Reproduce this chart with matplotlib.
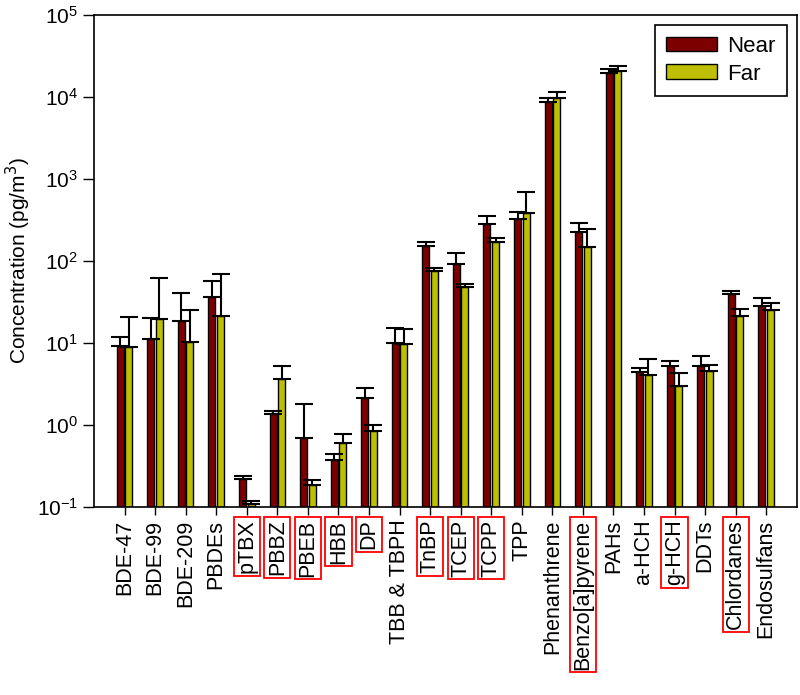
import numpy as np
import matplotlib
matplotlib.use('Agg')
import matplotlib.pyplot as plt
from matplotlib.ticker import LogLocator, NullLocator

plt.rcParams['font.family'] = ['Liberation Sans', 'DejaVu Sans']

categories = ['BDE-47', 'BDE-99', 'BDE-209', 'PBDEs', 'pTBX', 'PBBZ', 'PBEB', 'HBB', 'DP',
	'TBB & TBPH', 'TnBP', 'TCEP', 'TCPP', 'TPP', 'Phenanthrene', 'Benzo[a]pyrene', 'PAHs',
	'a-HCH', 'g-HCH', 'DDTs', 'Chlordanes', 'Endosulfans']

# labels with a red frame in the original
boxed = ['pTBX', 'PBBZ', 'PBEB', 'HBB', 'DP', 'TnBP', 'TCEP', 'TCPP', 'Benzo[a]pyrene',
	'g-HCH', 'Chlordanes']

near = [9.2, 11.3, 18.5, 36.7, 0.22, 1.37, 0.69, 0.374, 2.11, 10.1, 154, 91, 282, 325,
	8770, 226, 19800, 4.4, 5.25, 5.3, 39.3, 28.3]
near_top = [11.7, 20, 40.4, 57.5, 0.237, 1.49, 1.82, 0.44, 2.8, 15.4, 171, 126, 354, 399,
	9640, 290, 21700, 4.9, 6.1, 6.9, 43, 35]

far = [8.9, 19.4, 10.4, 21.5, 0.109, 3.64, 0.184, 0.61, 0.85, 9.7, 76, 47.8, 172, 385,
	9640, 150, 20500, 4.07, 2.99, 4.6, 21.3, 25.2]
far_top = [20.6, 61.5, 25, 70, 0.12, 5.2, 0.215, 0.78, 1.0, 14.7, 82, 52.5, 192, 700,
	11400, 245, 24100, 6.4, 4.27, 5.4, 25.7, 31]

near_color = '#7d0000'
far_color = '#bcc000'

base = 0.1
x = np.arange(len(categories))
near = np.array(near)
far = np.array(far)
near_err = np.array(near_top) - near
far_err = np.array(far_top) - far

fig = plt.figure(figsize=(8, 6.95), dpi=100)
ax = fig.add_axes([0.1175, 0.2705, 0.8785, 0.708])
ax.set_yscale('log')

w = 0.23
ax.bar(x - 0.14, near - base, w, bottom=base, color=near_color, edgecolor='black', linewidth=1, label='Near', zorder=2)
ax.bar(x + 0.14, far - base, w, bottom=base, color=far_color, edgecolor='black', linewidth=1, label='Far', zorder=2)
ax.errorbar(x - 0.14, near, yerr=[np.zeros_like(near), near_err], fmt='none', ecolor='black',
	elinewidth=1.5, capsize=6.5, capthick=1.5, zorder=3)
ax.errorbar(x + 0.14, far, yerr=[np.zeros_like(far), far_err], fmt='none', ecolor='black',
	elinewidth=1.5, capsize=6.5, capthick=1.5, zorder=3)

ax.set_xlim(-1, 22)
ax.set_ylim(base, 1e5)
ax.yaxis.set_major_locator(LogLocator(base=10, numticks=10))
ax.yaxis.set_minor_locator(NullLocator())

ax.set_xticks(x)
ax.set_xticklabels(categories, rotation=90, fontsize=15.5)
for lab in ax.get_xticklabels():
	if lab.get_text() in boxed:
		lab.set_bbox(dict(boxstyle='square,pad=0.12', fc='none', ec='red', lw=1.3))

ax.tick_params(axis='y', direction='out', length=8, width=1, labelsize=15, right=False)
ax.tick_params(axis='x', direction='out', length=6, width=1, top=False, pad=3)
ax.set_ylabel('Concentration (pg/m$^3$)', fontsize=15, labelpad=3)

for s in ax.spines.values():
	s.set_linewidth(1.2)

leg = ax.legend(loc='upper right', fontsize=16, fancybox=False, edgecolor='black',
	framealpha=1, handlelength=2.3, handleheight=0.63, borderpad=0.5,
	handletextpad=0.45, labelspacing=0.3, borderaxespad=0,
	bbox_to_anchor=(0.986, 0.98))
leg.get_frame().set_linewidth(1.2)

fig.savefig('out.png', dpi=100)
